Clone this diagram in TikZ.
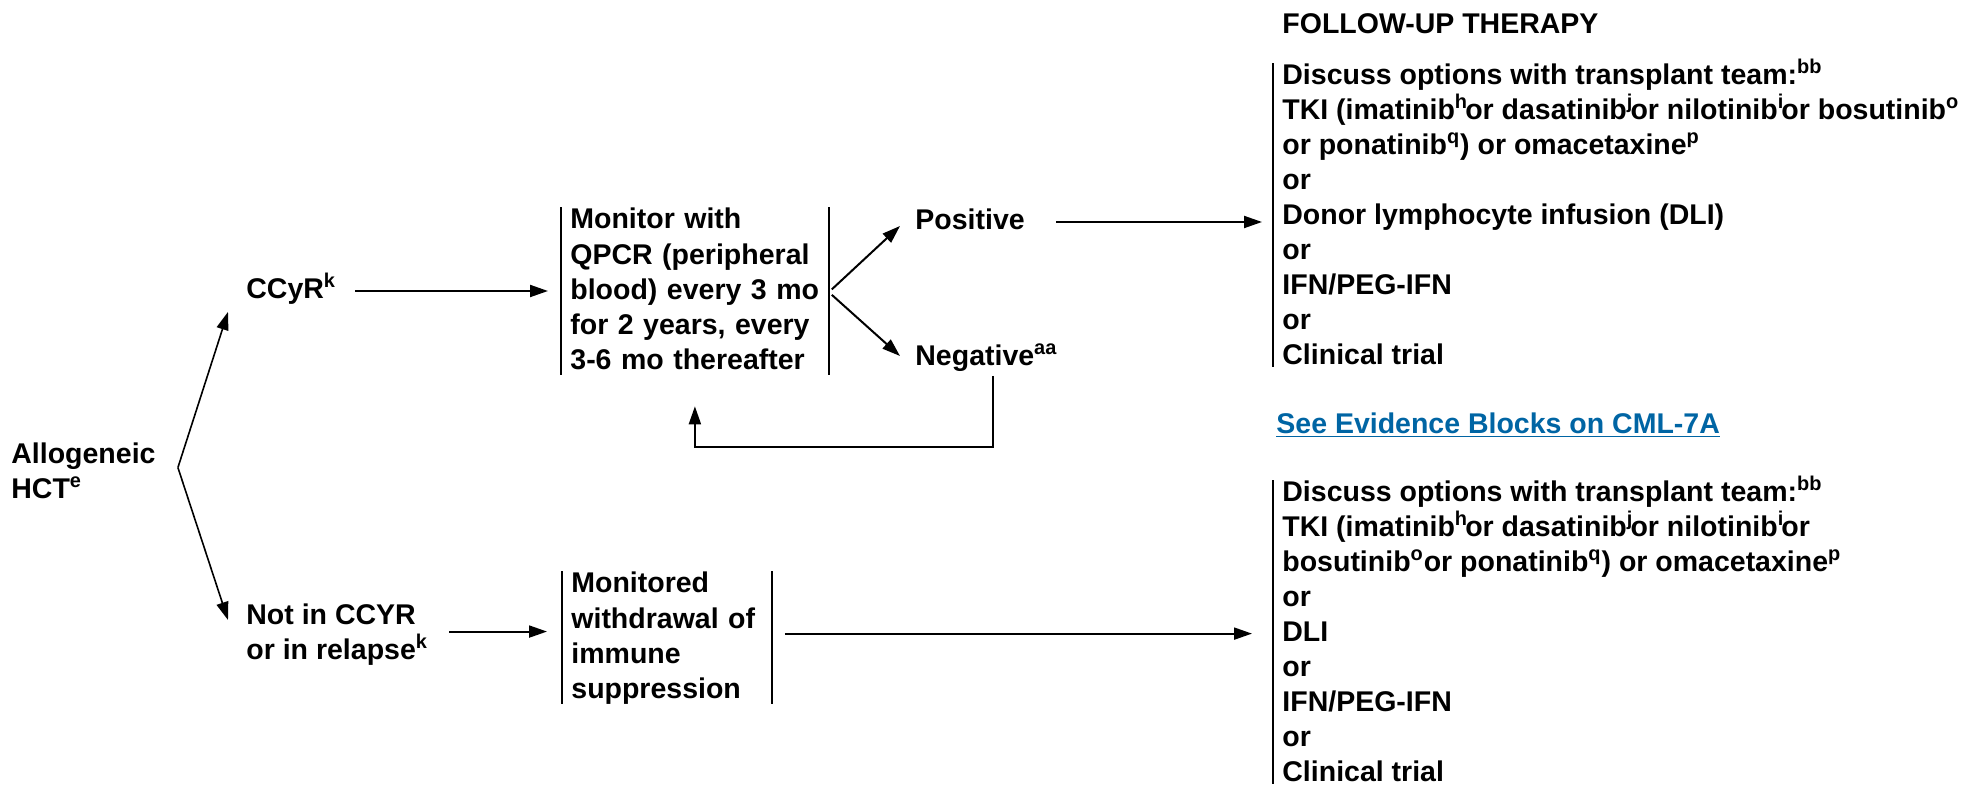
\documentclass[tikz,border=0pt]{standalone}
\usepackage{fontspec}
\setmainfont{Liberation Sans}
\usepackage{tikz}
\usetikzlibrary{positioning}
\usetikzlibrary{calc}
\usetikzlibrary{arrows.meta}
\definecolor{linkblue}{RGB}{0,101,164}
\tikzset{
	label text/.style={
		font=\fontsize{14.25}{17.55}\selectfont\bfseries,
		inner sep=0pt, align=left, anchor=north west,
		execute at begin node=\strut, execute at end node=\strut
	},
	bracket box/.style={
		label text, inner xsep=4.5pt
	},
	flow/.style={
		-{Triangle[length=9pt,width=6pt]}, line width=1pt
	},
	bar/.style={
		line width=0.8pt
	}
}
\newcommand\fnref[1]{\smash{\textsuperscript{#1}}}
\newcommand\fnrefsp[1]{\fnref{#1}\kern-0.1em}

\begin{document}
\begin{tikzpicture}[x=0.5pt, y=-0.5pt]
    \useasboundingbox (0,0) rectangle (1984,789);

    \node[label text] (allo) at (11,442) {Allogeneic\\HCT\fnref{e}};
    \node[label text, anchor=base west] (ccyr) at (246,298) {CCyR\fnref{k}};
    \node[label text] (notccyr) at (246,603) {Not in CCYR\\or in relapse\fnref{k}};

    \node[bracket box, text width=124.5pt] (monitor) at (561,204) {
        Monitor with\\
        QPCR (peripheral\\
        blood) every 3 mo\\
        for 2 years, every\\
        3-6 mo thereafter};
    \node[bracket box, text width=95.5pt] (withdraw) at (562,568) {
        Monitored\\
        withdrawal of\\
        immune\\
        suppression};

    \node[label text, anchor=base west] (pos) at (915,229) {Positive};
    \node[label text, anchor=base west] (neg) at (915,365) {Negative\fnref{aa}};

    \node[label text, anchor=base west] (title) at (1282,33) {FOLLOW-UP THERAPY};
    \node[bracket box] (ther1) at (1273,63) {
        Discuss options with transplant team:\fnref{bb}\\
        TKI (imatinib\fnrefsp{h} or dasatinib\fnrefsp{j} or nilotinib\fnrefsp{i} or bosutinib\fnref{o}\\
        or ponatinib\fnref{q}) or omacetaxine\fnref{p}\\
        or\\
        Donor lymphocyte infusion (DLI)\\
        or\\
        IFN/PEG-IFN\\
        or\\
        Clinical trial};
    \node[label text, anchor=base west, text=linkblue] (link) at (1276,433) {\underline{See Evidence Blocks on CML-7A}};
    \node[bracket box] (ther2) at (1273,480) {
        Discuss options with transplant team:\fnref{bb}\\
        TKI (imatinib\fnrefsp{h} or dasatinib\fnrefsp{j} or nilotinib\fnrefsp{i} or\\
        bosutinib\fnref{o}or ponatinib\fnref{q}) or omacetaxine\fnref{p}\\
        or\\
        DLI\\
        or\\
        IFN/PEG-IFN\\
        or\\
        Clinical trial};

    % brackets
    \foreach \n in {monitor, withdraw} {
        \draw[bar, shorten <=1.5pt, shorten >=2.5pt] (\n.north west) -- (\n.south west);
        \draw[bar, shorten <=1.5pt, shorten >=2.5pt] (\n.north east) -- (\n.south east);
    }
    \foreach \n in {ther1, ther2}
        \draw[bar, shorten >=4.5pt] (\n.north west) -- (\n.south west);

    % connectors
    \coordinate (split) at ([shift={(22,-8)}]allo.east);
    \draw[flow, line width=0.8pt] (split) -- ([shift={(-18,3)}]ccyr.south west);
    \draw[flow, line width=0.8pt] (split) -- ([shift={(-18,17)}]notccyr.north west);

    \draw[flow, shorten <=9.5pt, shorten >=6.5pt] (ccyr.east) -- (ccyr.east -| monitor.west);
    \draw[flow, shorten <=2pt] (monitor.east) -- ([shift={(-15,4)}]pos.west);
    \draw[flow, shorten <=2pt] (monitor.east) -- ([shift={(-15,-2)}]neg.west);
    \draw[flow, shorten <=15.5pt, shorten >=5.5pt] (pos.east) -- (pos.east -| ther1.west);
    \draw[flow, shorten >=13pt] ([xshift=3.5pt]neg.south) -- ++(0,71) -| (monitor.south);

    \draw[flow, shorten <=10.5pt, shorten >=7.5pt] ([yshift=2.5pt]notccyr.east) -- ([yshift=2.5pt]notccyr.east -| withdraw.west);
    \draw[flow, shorten <=6.5pt, shorten >=10.5pt] ([yshift=2.5pt]withdraw.east) -- ([yshift=2.5pt]withdraw.east -| ther2.west);
\end{tikzpicture}
\end{document}
